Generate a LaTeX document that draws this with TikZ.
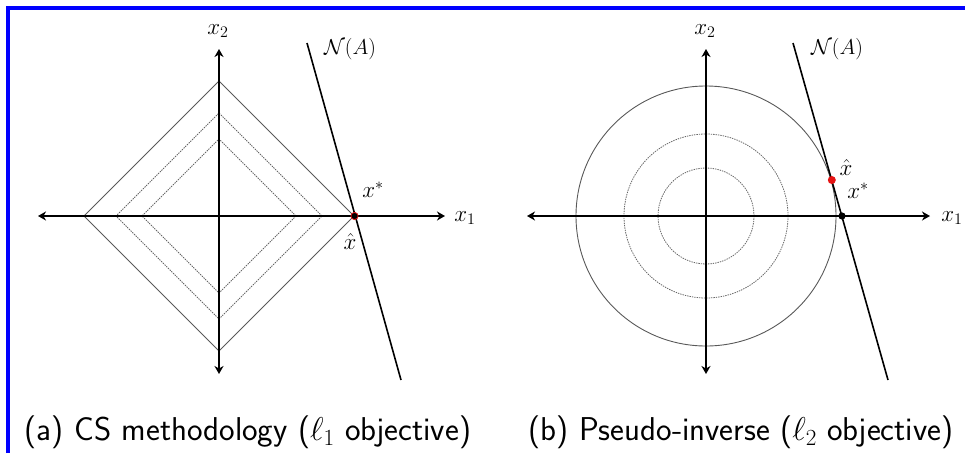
\documentclass[tikz,border=0pt]{standalone}
\usepackage{fix-cm}
\usepackage{amsmath}
\usetikzlibrary{arrows.meta, math}
\definecolor{myblue}{RGB}{0,0,255}
\definecolor{myred}{RGB}{230,20,20}
\tikzset{
  axis/.style={{Stealth[length=8pt,width=9pt,inset=2.5pt]}-{Stealth[length=8pt,width=9pt,inset=2.5pt]}, line width=1.8},
  level/.style={black!65, line width=0.9},
  sublevel/.style={black!60, line width=0.8, dash pattern=on 1.4pt off 1pt},
  nullsp/.style={line width=1.6},
  lab/.style={font=\fontsize{23}{26}\selectfont, inner sep=1pt},
  nlab/.style={font=\fontsize{21.5}{25}\selectfont, inner sep=1pt},
  capt/.style={font=\fontsize{33}{38}\selectfont\sffamily, inner sep=0pt}
}

\begin{document}
\begin{tikzpicture}[x=1pt, y=-1pt]
\tikzmath{
\cax=219;
\cay=216;
\cbx=706;
\cby=216;
\ra=135;
\rb=103;
\rc=77;
\ro=130;
\rm=82;
\ri=48;
}
\useasboundingbox (0,0) rectangle (965,453);

% frame
\draw[myblue, line width=4] (8,453) -- (8,8) -- (965,8);

% (a) l1 balls
\draw[level] (\cax+\ra,\cay) -- (\cax,\cay-\ra) -- (\cax-\ra,\cay) -- (\cax,\cay+\ra) -- cycle;
\draw[sublevel] (\cax+\rb,\cay) -- (\cax,\cay-\rb) -- (\cax-\rb,\cay) -- (\cax,\cay+\rb) -- cycle;
\draw[sublevel] (\cax+\rc,\cay) -- (\cax,\cay-\rc) -- (\cax-\rc,\cay) -- (\cax,\cay+\rc) -- cycle;

\coordinate (aw) at (38,\cay);
\coordinate (ae) at (445,\cay);
\coordinate (an) at (\cax,49);
\coordinate (as) at (\cax,374);
\draw[axis] (aw) -- (ae);
\draw[axis] (as) -- (an);
\node[lab] (ax1) at (465,218) {$x_1$};
\node[lab] (ax2) at (218,31) {$x_2$};

\coordinate (natop) at (307,43);
\coordinate (nabot) at (401,380);
\draw[nullsp] (natop) -- (nabot);
\node[nlab] (naa) at (350,49) {$\mathcal{N}(A)$};

\fill[black] (354.5,\cay) circle (3.6);
\draw[myred, line width=0.8] (354.5,\cay) circle (3.6);
\node[lab] (axs) at (373,190) {$x^*$};
\node[lab] (axh) at (350,242) {$\hat{x}$};

\node[capt] (capa) at (248,432) {(a) CS methodology ($\ell_1$ objective)};

% (b) l2 balls
\draw[level] (\cbx,\cby) circle (\ro);
\draw[sublevel] (\cbx,\cby) circle (\rm);
\draw[sublevel] (\cbx,\cby) circle (\ri);

\coordinate (bw) at (527,\cby);
\coordinate (be) at (930,\cby);
\coordinate (bn) at (\cbx,49);
\coordinate (bs) at (\cbx,374);
\draw[axis] (bw) -- (be);
\draw[axis] (bs) -- (bn);
\node[lab] (bx1) at (952,218) {$x_1$};
\node[lab] (bx2) at (705,31) {$x_2$};

\coordinate (nbtop) at (793,43);
\coordinate (nbbot) at (888,380);
\draw[nullsp] (nbtop) -- (nbbot);
\node[nlab] (nab) at (837,49) {$\mathcal{N}(A)$};

\fill[black] (842,\cby) circle (3.6);
\fill[myred] (831.8,180) circle (4);
\node[lab] (bxh) at (846,168) {$\hat{x}$};
\node[lab] (bxs) at (858,191) {$x^*$};

\node[capt] (capb) at (741,432) {(b) Pseudo-inverse ($\ell_2$ objective)};
\end{tikzpicture}
\end{document}
